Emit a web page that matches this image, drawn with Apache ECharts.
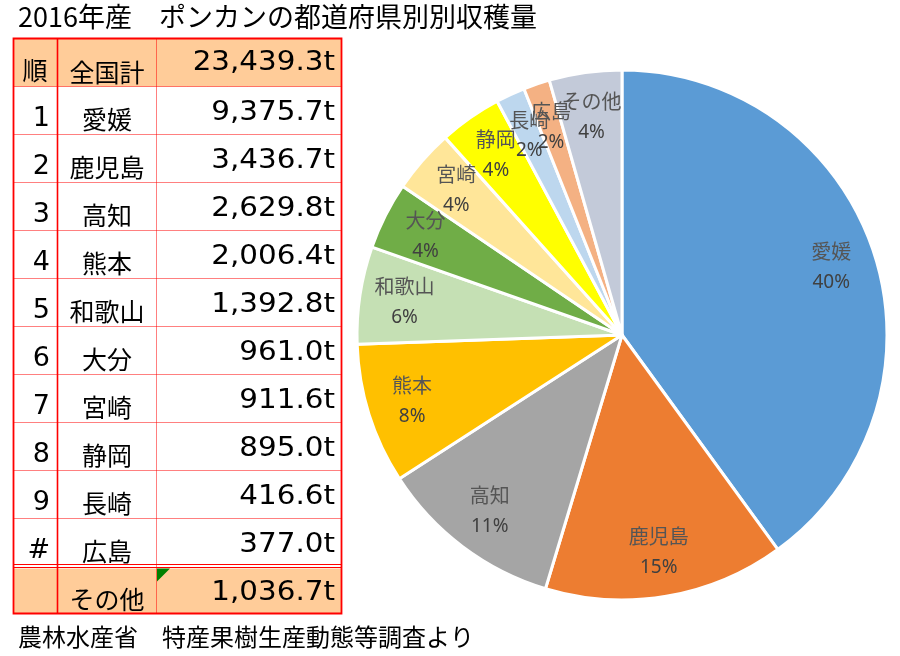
<!DOCTYPE html>
<html><head><meta charset="utf-8">
<script src="https://cdn.jsdelivr.net/npm/echarts@6/dist/echarts.min.js"></script>
<style>html,body{margin:0;padding:0;background:#fff}#c{width:900px;height:656px}</style>
</head><body><div id="c"></div>
<script>
const titleText = '2016年産　ポンカンの都道府県別別収穫量';
const sourceText = '農林水産省　特産果樹生産動態等調査より';
const rankHeader = '順';
const totalName = '全国計';
const totalValue = 23439.3;
const ranks = ['1','2','3','4','5','6','7','8','9','#'];
const prefectures = ['愛媛','鹿児島','高知','熊本','和歌山','大分','宮崎','静岡','長崎','広島'];
const harvest = [9375.7, 3436.7, 2629.8, 2006.4, 1392.8, 961.0, 911.6, 895.0, 416.6, 377.0];
const otherName = 'その他';
const otherValue = 1036.7;
const sliceColors = ['#5B9BD5','#ED7D31','#A5A5A5','#FFC000','#C5E0B4','#70AD47','#FFE699','#FFFF00','#BDD7EE','#F4B183','#C3CAD9'];

const pieNames = prefectures.concat([otherName]);
const pieValues = harvest.concat([otherValue]);

function fmt(v){ return v.toLocaleString('en-US',{minimumFractionDigits:1,maximumFractionDigits:1}) + 't'; }

// table layout
const L = 13.5, C1 = 57.5, C2 = 156.5, R = 341.5;
const TOP = 38.5, RH = 47.9;
const rowTop = i => Math.round(TOP + i * RH) + 0.5;
const RED = '#FF0000';
const CJK = '"Noto Sans CJK JP"';
const NUM = '"DejaVu Sans"';

const g = [];
function txt(x, y, text, size, family, align, sx){
  g.push({type:'text', x:x, y:y, scaleX: sx || 1, silent:true, z:10,
    style:{text:text, fill:'#000', fontSize:size, fontFamily:family,
      align:align, textAlign:align, verticalAlign:'middle', textVerticalAlign:'middle'}});
}
function line(x1,y1,x2,y2,w,dash){
  g.push({type:'line', silent:true, z:5, shape:{x1:x1,y1:y1,x2:x2,y2:y2},
    style:{stroke:RED, lineWidth:w, lineDash: dash || null}});
}
// fills
const footTop = rowTop(11) + 3;
const bottom = 613.5;
g.push({type:'rect', silent:true, z:1, shape:{x:L, y:TOP, width:R-L, height:rowTop(1)-TOP}, style:{fill:'#FFCC99'}});
g.push({type:'rect', silent:true, z:1, shape:{x:L, y:footTop, width:R-L, height:bottom-footTop}, style:{fill:'#FFCC99'}});
// grid lines
for (let i = 1; i <= 10; i++) line(L, rowTop(i), R, rowTop(i), 1, [1,1]);
line(L, rowTop(11) - 1, R, rowTop(11) - 1, 1);
line(L, rowTop(11) + 2, R, rowTop(11) + 2, 1);
line(C2, TOP, C2, bottom, 1, [1,1]);
line(C1, TOP, C1, bottom, 1.6);
g.push({type:'rect', silent:true, z:6, shape:{x:L, y:TOP, width:R-L, height:bottom-TOP}, style:{fill:null, stroke:RED, lineWidth:1.8}});
g.push({type:'polygon', silent:true, z:7, shape:{points:[[C2+0.5,footTop],[C2+13.5,footTop],[C2+0.5,footTop+13]]}, style:{fill:'#008000'}});

// header
txt(35, TOP + 32, rankHeader, 25, CJK, 'center');
txt(107, TOP + 34, totalName, 25, CJK, 'center');
txt(335, TOP + 25, fmt(totalValue), 26, NUM, 'right', 1.13);
// body
for (let i = 0; i < prefectures.length; i++) {
  const t = rowTop(i + 1);
  txt(50, t + 32, ranks[i], 27, NUM, 'right');
  txt(107, t + 33, prefectures[i], 25, CJK, 'center');
  txt(335, t + 27, fmt(harvest[i]), 26, NUM, 'right', 1.13);
}
// footer
txt(107, footTop + 31, otherName, 25, CJK, 'center');
txt(335, footTop + 25, fmt(otherValue), 26, NUM, 'right', 1.13);
// title & source
txt(18, 17, titleText, 27, CJK, 'left');
txt(18, 637, sourceText, 24, CJK, 'left');

const chart = echarts.init(document.getElementById('c'), null, {renderer:'canvas'});
chart.setOption({
  animation:false,
  backgroundColor:'#fff',
  graphic:{elements:g},
  series:[
    {
      type:'pie', center:[622,335], radius:[0,265], startAngle:90, clockwise:true,
      percentPrecision:0, silent:true,
      data: pieNames.map((n,i)=>({name:n, value:pieValues[i], itemStyle:{color:sliceColors[i]}})),
      label:{show:false}, labelLine:{show:false},
      itemStyle:{borderColor:'#fff', borderWidth:3},
      emphasis:{disabled:true}
    },
    {
      type:'pie', center:[622,335], radius:[169,265], startAngle:90, clockwise:true,
      percentPrecision:0, silent:true, z:3, avoidLabelOverlap:false,
      labelLayout:{hideOverlap:false},
      data: pieNames.map((n,i)=>({name:n, value:pieValues[i]})),
      itemStyle:{color:'rgba(0,0,0,0)', borderWidth:0},
      labelLine:{show:false},
      emphasis:{disabled:true},
      label:{show:true, position:'inside', formatter:'{n|{b}}\n{p|{d}%}',
        rich:{
          n:{fontSize:20, color:'#555555', fontFamily:CJK, lineHeight:31},
          p:{fontSize:19, color:'#404040', fontFamily:'"Noto Sans"', lineHeight:31}
        }}
    }
  ]
});
</script></body></html>
